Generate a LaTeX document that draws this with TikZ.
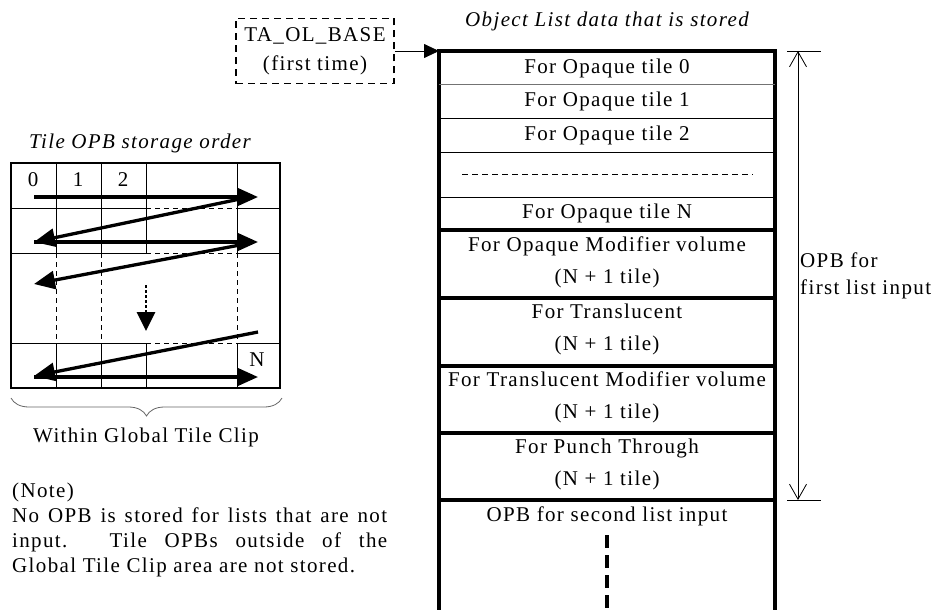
\documentclass[tikz,border=0pt]{standalone}
\usepackage{fontspec}
\setmainfont{Liberation Serif}[LetterSpace=6.5]
\usetikzlibrary{arrows.meta,decorations.pathreplacing}
\begin{document}
\begin{tikzpicture}[x=1pt,y=-1pt,
  txt/.style={inner sep=0pt, font=\fontsize{21}{25}\selectfont},
  itxt/.style={inner sep=0pt, font=\fontsize{21}{25}\selectfont\itshape},
  hair/.style={line width=0.8pt},
  heavy/.style={line width=3.5pt},
  gridout/.style={line width=1.6pt},
  griddash/.style={line width=0.8pt, dash pattern=on 5pt off 4pt},
  flow/.style={line width=3.3pt, -{Triangle[length=21pt 0 0,width=18pt 0 0]}},
  dimarrow/.style={line width=0.8pt, {Straight Barb[length=15pt 0 0,width=17pt 0 0]}-{Straight Barb[length=15pt 0 0,width=17pt 0 0]}},
]
\useasboundingbox (0,0) rectangle (945,610);

% ---------- titles ----------
\node[itxt] (objtitle) at (607,21) {Object List data that is stored};
\node[itxt] (gridtitle) at (140,143) {Tile OPB storage order};

% ---------- TA_OL_BASE box ----------
\node[txt, draw, line width=1.6pt, dash pattern=on 7pt off 5pt,
      minimum width=158pt, minimum height=65pt, align=center,
      font=\fontsize{21}{29}\selectfont] (ta) at (315,51)
      {TA\_OL\_BASE\\(first time)};
\coordinate (listTL) at (439,51);
\draw[hair, -{Triangle[length=15pt 0 0,width=14pt 0 0]}] (ta.east) -- (listTL);

% ---------- object list ----------
\draw[heavy, line join=miter] (439,610) -- (439,51) -- (775,51) -- (775,610);
\draw[hair, draw=black!55] (439,84) -- (775,84);
\draw[hair] (439,118) -- (775,118);
\draw[hair] (439,152) -- (775,152);
\draw[hair] (439,197) -- (775,197);
\foreach \yy in {230,298,366,433,500} \draw[heavy] (439,\yy) -- (775,\yy);
\draw[hair, dash pattern=on 6pt off 4pt] (462,174) -- (753,174);
\draw[line width=4pt, dash pattern=on 13pt off 7pt] (607,535) -- (607,610);

\node[txt] (r0) at (607,68) {For Opaque tile 0};
\node[txt] (r1) at (607,101) {For Opaque tile 1};
\node[txt] (r2) at (607,135) {For Opaque tile 2};
\node[txt] (rN) at (607,213) {For Opaque tile N};
\node[txt, align=center, font=\fontsize{21}{32}\selectfont] (rom) at (607,262.5) {For Opaque Modifier volume\\(N + 1 tile)};
\node[txt, align=center, font=\fontsize{21}{32}\selectfont] (rtr) at (607,329.5) {For Translucent\\(N + 1 tile)};
\node[txt, align=center, font=\fontsize{21}{32}\selectfont] (rtm) at (607,397) {For Translucent Modifier volume\\(N + 1 tile)};
\node[txt, align=center, font=\fontsize{21}{32}\selectfont] (rpt) at (607,464) {For Punch Through\\(N + 1 tile)};
\node[txt] (r2nd) at (607,516) {OPB for second list input};

% ---------- dimension ----------
\coordinate (dtop) at (798,51);
\coordinate (dbot) at (798,500);
\draw[hair] (787,51) -- (821,51);
\draw[hair] (787,500) -- (821,500);
\draw[dimarrow] (dtop) -- (dbot);
\node[txt, anchor=west, align=left, font=\fontsize{21}{27}\selectfont] (dimlabel) at (800,275.5) {OPB for\\first list input};

% ---------- grid ----------
\draw[gridout] (11,163) rectangle (280,388);
\foreach \yy in {208,253,343} {
  \draw[hair] (11,\yy) -- (146,\yy);
  \draw[hair] (237,\yy) -- (280,\yy);
  \draw[griddash] (146,\yy) -- (237,\yy);
}
\foreach \xx in {56,101,237} {
  \draw[hair] (\xx,163) -- (\xx,253);
  \draw[griddash] (\xx,253) -- (\xx,343);
  \draw[hair] (\xx,343) -- (\xx,388);
}
\draw[hair] (146,163) -- (146,253);
\draw[hair] (146,343) -- (146,388);

\node[txt] (g0) at (33,180) {0};
\node[txt] (g1) at (78,180) {1};
\node[txt] (g2) at (123,180) {2};
\node[txt] (gN) at (257,360) {N};

\coordinate (a1s) at (34,197);   \coordinate (a1e) at (258,197);
\coordinate (d1s) at (240,199);  \coordinate (d1e) at (34,242);
\coordinate (a2s) at (34,242);   \coordinate (a2e) at (258,242);
\coordinate (d2s) at (240,245);  \coordinate (d2e) at (34,284);
\coordinate (ds) at (146,285);   \coordinate (de) at (146,331);
\coordinate (d3s) at (258,332);  \coordinate (d3e) at (34,376);
\coordinate (a4s) at (34,377);   \coordinate (a4e) at (258,377);

\draw[flow] (a1s) -- (a1e);
\draw[flow] (d1s) -- (d1e);
\draw[flow] (a2s) -- (a2e);
\draw[flow] (d2s) -- (d2e);
\draw[line width=2.8pt, dash pattern=on 2.5pt off 2.5pt, -{Triangle[length=19pt 0 0,width=18pt 0 0]}] (ds) -- (de);
\draw[flow] (d3s) -- (d3e);
\draw[flow] (a4s) -- (a4e);

% brace
\draw[hair, draw=black!60, decorate, decoration={brace, mirror, amplitude=18pt}] (11,398) -- (282,398);
\node[txt] (clip) at (146,437) {Within Global Tile Clip};

% ---------- note ----------
\node[txt, anchor=north west, align=left, font=\fontsize{21}{25}\selectfont] (note) at (12,483)
 {(Note)\\
  \makebox[375pt][s]{No OPB is stored for lists that are not}\\
  \makebox[375pt][s]{input. Tile OPBs outside of the}\\
  Global Tile Clip area are not stored.};
\end{tikzpicture}
\end{document}
